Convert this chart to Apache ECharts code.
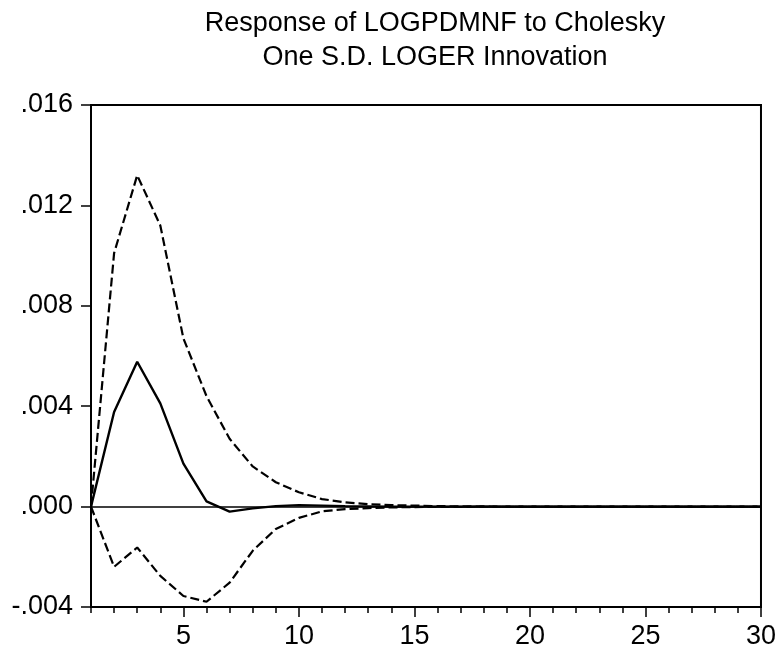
<!DOCTYPE html>
<html>
<head>
<meta charset="utf-8">
<script src="https://cdn.jsdelivr.net/npm/echarts@6/dist/echarts.min.js"></script>
<style>
  html, body { margin: 0; padding: 0; background: #fff; }
  #chart { width: 779px; height: 653px; }
</style>
</head>
<body>
<div id="chart"></div>
<script>
// ---- data ----
const periods = [1,2,3,4,5,6,7,8,9,10,11,12,13,14,15,16,17,18,19,20,21,22,23,24,25,26,27,28,29,30];
const response = [0, 0.00377, 0.00577, 0.00411, 0.00171, 0.00021, -0.00020, -0.00007, 0.00002, 0.00006, 0.00004, 0.00002, 0.00001, 0, 0, 0, 0, 0, 0, 0, 0, 0, 0, 0, 0, 0, 0, 0, 0, 0];
const upperBand = [0, 0.0101, 0.0132, 0.0112, 0.0067, 0.0044, 0.0027, 0.0016, 0.00097, 0.00057, 0.0003, 0.00017, 0.0001, 0.00006, 0.00004, 0.00002, 0.00001, 0.00001, 0, 0, 0, 0, 0, 0, 0, 0, 0, 0, 0, 0];
const lowerBand = [0, -0.0024, -0.00163, -0.00276, -0.00356, -0.00379, -0.00303, -0.00176, -0.00089, -0.00045, -0.00019, -0.0001, -0.00006, -0.00003, -0.00002, -0.00001, -0.00001, 0, 0, 0, 0, 0, 0, 0, 0, 0, 0, 0, 0, 0];
const xMajorTicks = [5, 10, 15, 20, 25, 30];
const titleLines = ["Response of LOGPDMNF to Cholesky", "One S.D. LOGER Innovation"];

const FONT = '"Liberation Sans", Arial, sans-serif';
const pair = (arr) => periods.map((p, i) => [p, arr[i]]);

const chart = echarts.init(document.getElementById('chart'), null, { renderer: 'canvas' });
chart.setOption({
  animation: false,
  backgroundColor: '#fff',
  title: {
    text: titleLines.join('\n'),
    left: 430,
    top: 2,
    textAlign: 'center',
    textStyle: { fontFamily: FONT, fontSize: 27, fontWeight: 'normal', color: '#000', lineHeight: 34 }
  },
  grid: { left: 91, right: 17, top: 105, bottom: 46, show: true, borderColor: '#000', borderWidth: 2, backgroundColor: 'transparent' },
  xAxis: [
    {
      type: 'value', min: 1, max: 30, position: 'bottom',
      axisLine: { show: true, onZero: false, lineStyle: { color: '#000', width: 2 } },
      axisTick: { show: true, inside: false, length: 10, customValues: xMajorTicks, lineStyle: { color: '#000', width: 1.5 } },
      axisLabel: { show: true, customValues: xMajorTicks, margin: 16, fontFamily: FONT, fontSize: 27, color: '#000' },
      splitLine: { show: false }
    },
    {
      type: 'value', min: 1, max: 30, position: 'bottom',
      axisLine: { show: false, onZero: false },
      axisTick: { show: true, inside: false, length: 6, customValues: periods, lineStyle: { color: '#000', width: 1.5 } },
      axisLabel: { show: false },
      splitLine: { show: false }
    }
  ],
  yAxis: {
    type: 'value', min: -0.004, max: 0.016, interval: 0.004,
    axisLine: { show: true, onZero: false, lineStyle: { color: '#000', width: 2 } },
    axisTick: { show: true, inside: false, length: 10, lineStyle: { color: '#000', width: 1.5 } },
    axisLabel: {
      margin: 18, fontFamily: FONT, fontSize: 27, color: '#000',
      formatter: (v) => {
        if (Math.abs(v) < 1e-9) return '.000';
        return v.toFixed(3).replace('0.', '.');
      }
    },
    splitLine: { show: false }
  },
  series: [
    {
      type: 'line', xAxisIndex: 0, data: pair(response), symbol: 'none',
      lineStyle: { color: '#000', width: 2.4 },
      markLine: {
        silent: true, symbol: 'none', label: { show: false },
        lineStyle: { color: '#000', width: 1.6, type: 'solid' },
        data: [{ yAxis: 0 }]
      },
      z: 3
    },
    {
      type: 'line', xAxisIndex: 0, data: pair(upperBand), symbol: 'none',
      lineStyle: { color: '#000', width: 2.2, type: [9, 4] }
    },
    {
      type: 'line', xAxisIndex: 0, data: pair(lowerBand), symbol: 'none',
      lineStyle: { color: '#000', width: 2.2, type: [9, 4] }
    }
  ]
});
</script>
</body>
</html>
